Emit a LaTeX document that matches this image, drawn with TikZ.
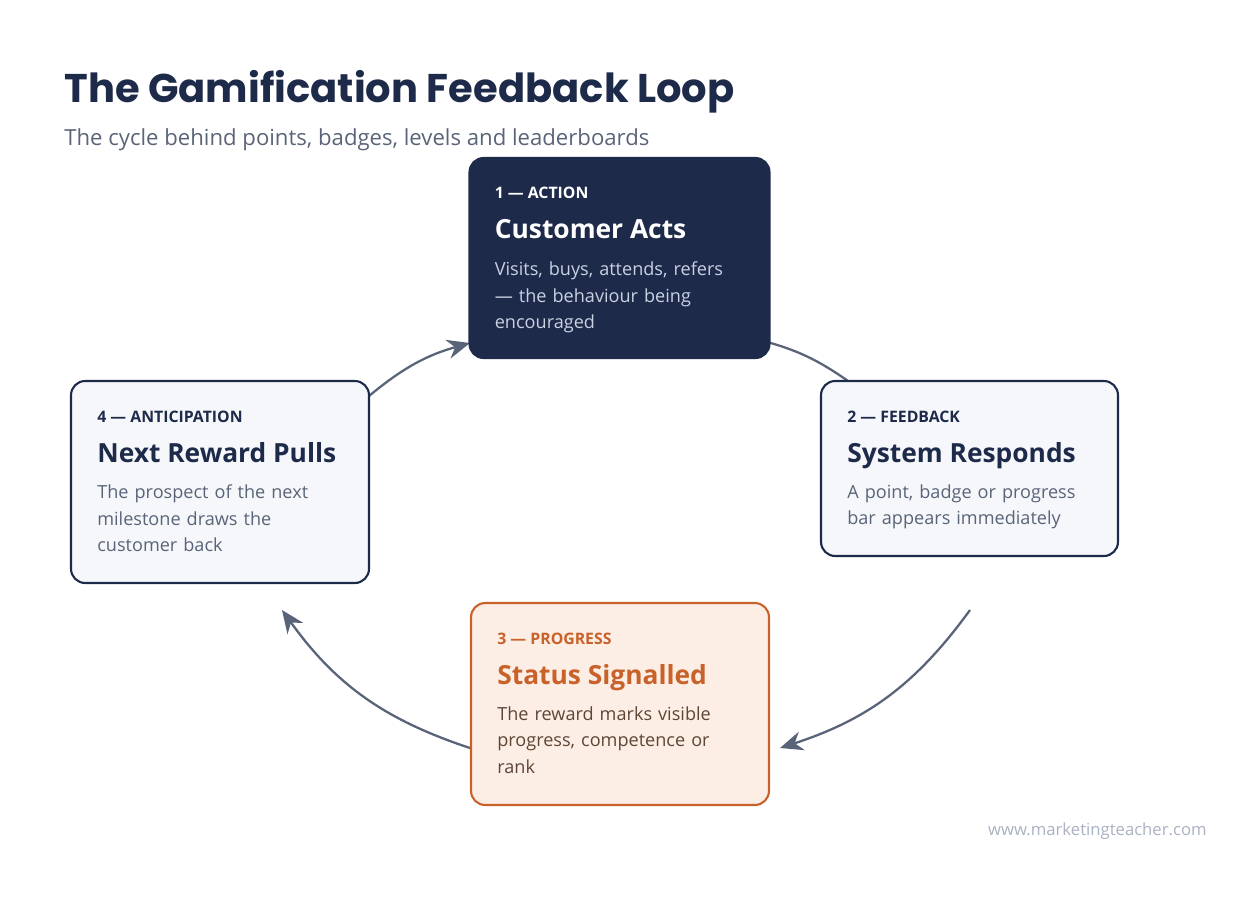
\documentclass[tikz,border=0pt]{standalone}
\usepackage{fontspec}
\setmainfont{Open Sans}
\newfontfamily\titlefont{Poppins}
\usepackage{xcolor}
\usetikzlibrary{arrows.meta,positioning,calc}

\definecolor{navy}{HTML}{1E2A4A}
\definecolor{slate}{HTML}{5A6478}
\definecolor{paper}{HTML}{F5F7FA}
\definecolor{peach}{HTML}{FCEEE4}
\definecolor{rust}{HTML}{C8622A}
\definecolor{mist}{HTML}{C9D1E3}
\definecolor{brownish}{HTML}{5E4636}
\definecolor{faint}{HTML}{A9B1C2}

\begin{document}
\begin{tikzpicture}[x=0.02cm, y=-0.02cm,
box/.style={rectangle, rounded corners=8pt, draw=navy, line width=1.2pt, fill=paper},
tag/.style={anchor=base west, inner sep=0pt, font=\fontsize{9}{11}\selectfont\bfseries, text=navy},
head/.style={anchor=base west, inner sep=0pt, font=\fontsize{15}{18}\selectfont\bfseries, text=navy},
body/.style={anchor=north west, inner sep=0pt, align=left, text width=5cm, font=\fontsize{10.3}{15.3}\selectfont, text=slate},
loop/.style={draw=slate, line width=1.3pt},
arrow/.style={loop, -{Stealth[length=13pt, width=11pt]}}
]
\useasboundingbox (0,0) rectangle (1240,900);

% Title
\node[anchor=base west, inner sep=0pt, font=\titlefont\fontsize{22.8}{26}\selectfont\bfseries, text=navy] (title) at (64,102) {The Gamification Feedback Loop};
\node[anchor=base west, inner sep=0pt, font=\fontsize{12.6}{14}\selectfont, text=slate] (subtitle) at (64,145) {The cycle behind points, badges, levels and leaderboards};

% Connectors (behind boxes)
\coordinate (a4) at (369,396);
\coordinate (a1) at (470,343);
\coordinate (b1) at (760,340);
\coordinate (b2) at (848,381);
\coordinate (c2) at (970,610);
\coordinate (c3) at (780,748);
\coordinate (d3) at (470,748);
\coordinate (d4) at (282,610);
\draw[arrow] (a4) to[bend left=12] (a1);
\draw[loop] (b1) to[bend left=10] (b2);
\draw[arrow] (c2) to[bend left=18] (c3);
\draw[arrow] (d3) to[bend left=18] (d4);

% Boxes
\node[box, fill=navy, minimum width=6cm, minimum height=4cm] (action) at (619.5,258) {};
\node[box, minimum width=5.94cm, minimum height=3.5cm] (feedback) at (969.5,468.5) {};
\node[box, draw=rust, fill=peach, minimum width=5.96cm, minimum height=4.04cm] (progress) at (620,704) {};
\node[box, minimum width=5.96cm, minimum height=4.04cm] (anticip) at (220,482) {};

% 1 - action
\node[tag, text=white] (actiontag) at ([shift={(26,42)}]action.north west) {1 — ACTION};
\node[head, text=white] (actionhead) at ([shift={(26,82)}]action.north west) {Customer Acts};
\node[body, text=mist] (actionbody) at ([shift={(26,104)}]action.north west) {Visits, buys, attends, refers\\— the behaviour being\\encouraged};

% 2 - feedback
\node[tag] (feedtag) at ([shift={(27,43)}]feedback.north west) {2 — FEEDBACK};
\node[head] (feedhead) at ([shift={(27,83)}]feedback.north west) {System Responds};
\node[body] (feedbody) at ([shift={(27,104)}]feedback.north west) {A point, badge or progress\\bar appears immediately};

% 3 - progress
\node[tag, text=rust] (progtag) at ([shift={(27,43)}]progress.north west) {3 — PROGRESS};
\node[head, text=rust] (proghead) at ([shift={(27,83)}]progress.north west) {Status Signalled};
\node[body, text=brownish] (progbody) at ([shift={(27,104)}]progress.north west) {The reward marks visible\\progress, competence or\\rank};

% 4 - anticipation
\node[tag] (anttag) at ([shift={(27,43)}]anticip.north west) {4 — ANTICIPATION};
\node[head] (anthead) at ([shift={(27,83)}]anticip.north west) {Next Reward Pulls};
\node[body] (antbody) at ([shift={(27,104)}]anticip.north west) {The prospect of the next\\milestone draws the\\customer back};

% Footer
\node[anchor=base east, inner sep=0pt, font=\fontsize{9.5}{11}\selectfont, text=faint] (site) at (1207,835) {www.marketingteacher.com};
\end{tikzpicture}
\end{document}
